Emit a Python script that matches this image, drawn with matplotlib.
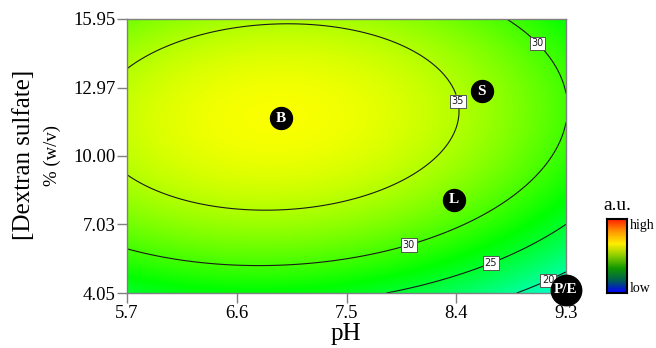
import numpy as np
import matplotlib
matplotlib.use("Agg")
import matplotlib.pyplot as plt
from matplotlib.colors import LinearSegmentedColormap

# --- data ---
ph_ticks = [5.7, 6.6, 7.5, 8.4, 9.3]
ds_ticks = [4.05, 7.03, 10.00, 12.97, 15.95]
ds_tick_labels = ["4.05", "7.03", "10.00", "12.97", "15.95"]

# quadratic response surface in coded units (pH centre 7.5 +/- 1.8, DS centre 10 +/- 5.95)
b0, b1, b2 = 37.13, -3.20, 4.23
b12, b11, b22 = 0.71, -4.72, -7.03
contour_levels = [20, 25, 30, 35]

point_names = ["B", "S", "L", "P/E"]
point_ph = [6.96, 8.61, 8.38, 9.30]
point_ds = [11.65, 12.82, 8.09, 4.20]

# --- surface ---
ph = np.linspace(5.7, 9.3, 400)
ds = np.linspace(4.05, 15.95, 400)
PH, DS = np.meshgrid(ph, ds)
X = (PH - 7.5) / 1.8
Y = (DS - 10.0) / 5.95
Z = b0 + b1 * X + b2 * Y + b12 * X * Y + b11 * X**2 + b22 * Y**2

plt.rcParams["font.family"] = ["Liberation Serif", "DejaVu Serif"]

fig = plt.figure(figsize=(6.56, 3.48), dpi=100)
ax = fig.add_axes([127 / 656, 1 - 293 / 348, 439 / 656, 274 / 348])

surf_cmap = LinearSegmentedColormap.from_list(
    "de", ["#0000ff", "#00ffff", "#00ff00", "#ffff00", "#ff0000"])
ax.imshow(Z, extent=[5.7, 9.3, 4.05, 15.95], origin="lower", aspect="auto",
          cmap=surf_cmap, vmin=4, vmax=50, interpolation="bilinear")

cs = ax.contour(PH, DS, Z, levels=contour_levels, colors="#1a1a1a", linewidths=0.8)
label_spots = [(9.14, 4.75), (8.67, 5.53), (8.00, 6.31), (9.12, 15.17), (8.39, 12.35)]
labels = ax.clabel(cs, fmt="%d", fontsize=7, inline=True, inline_spacing=2,
                   manual=label_spots)
for t in labels:
    t.set_rotation(0)
    t.set_family("DejaVu Sans")
    t.set_bbox(dict(boxstyle="square,pad=0.18", fc="white", ec="#555555", lw=0.7))

# marked points
for name, x, y in zip(point_names, point_ph, point_ds):
    size = 480 if name == "P/E" else 250
    ax.scatter([x], [y], s=size, c="black", zorder=5, clip_on=False)
    ax.text(x, y, name, color="white", fontsize=11, fontweight="bold",
            ha="center", va="center", zorder=6)

ax.set_xlim(5.7, 9.3)
ax.set_ylim(4.05, 15.95)
ax.set_xticks(ph_ticks)
ax.set_xticklabels([f"{v:.1f}" for v in ph_ticks])
ax.set_yticks(ds_ticks)
ax.set_yticklabels(ds_tick_labels)
ax.tick_params(axis="both", direction="out", length=7, width=1, color="#808080",
               labelsize=13.5, pad=1.5)
for sp in ax.spines.values():
    sp.set_color("#808080")
    sp.set_linewidth(1)

fig.text(346 / 656, 1 - 334 / 348, "pH", fontsize=18, ha="center", va="center")
fig.text(24 / 656, 1 - 155 / 348, "[Dextran sulfate]", fontsize=18, rotation=90,
         ha="center", va="center")
fig.text(52 / 656, 1 - 155 / 348, "% (w/v)", fontsize=13.5, rotation=90,
         ha="center", va="center")

# colour key
cax = fig.add_axes([607 / 656, 1 - 293 / 348, 20 / 656, 74 / 348])
bar_cmap = LinearSegmentedColormap.from_list(
    "bar", ["#0000ff", "#006050", "#119900", "#88cc00", "#ffee00", "#ff9900", "#ff2200"])
cax.imshow(np.linspace(0, 1, 100).reshape(-1, 1), cmap=bar_cmap, origin="lower",
           aspect="auto")
cax.set_xticks([])
cax.set_yticks([])
for sp in cax.spines.values():
    sp.set_color("black")
    sp.set_linewidth(1.5)
fig.text(617 / 656, 1 - 205 / 348, "a.u.", fontsize=14, ha="center", va="center")
fig.text(630 / 656, 1 - 226 / 348, "high", fontsize=10, ha="left", va="center")
fig.text(630 / 656, 1 - 288 / 348, "low", fontsize=10, ha="left", va="center")

fig.savefig("out.png", dpi=100)
